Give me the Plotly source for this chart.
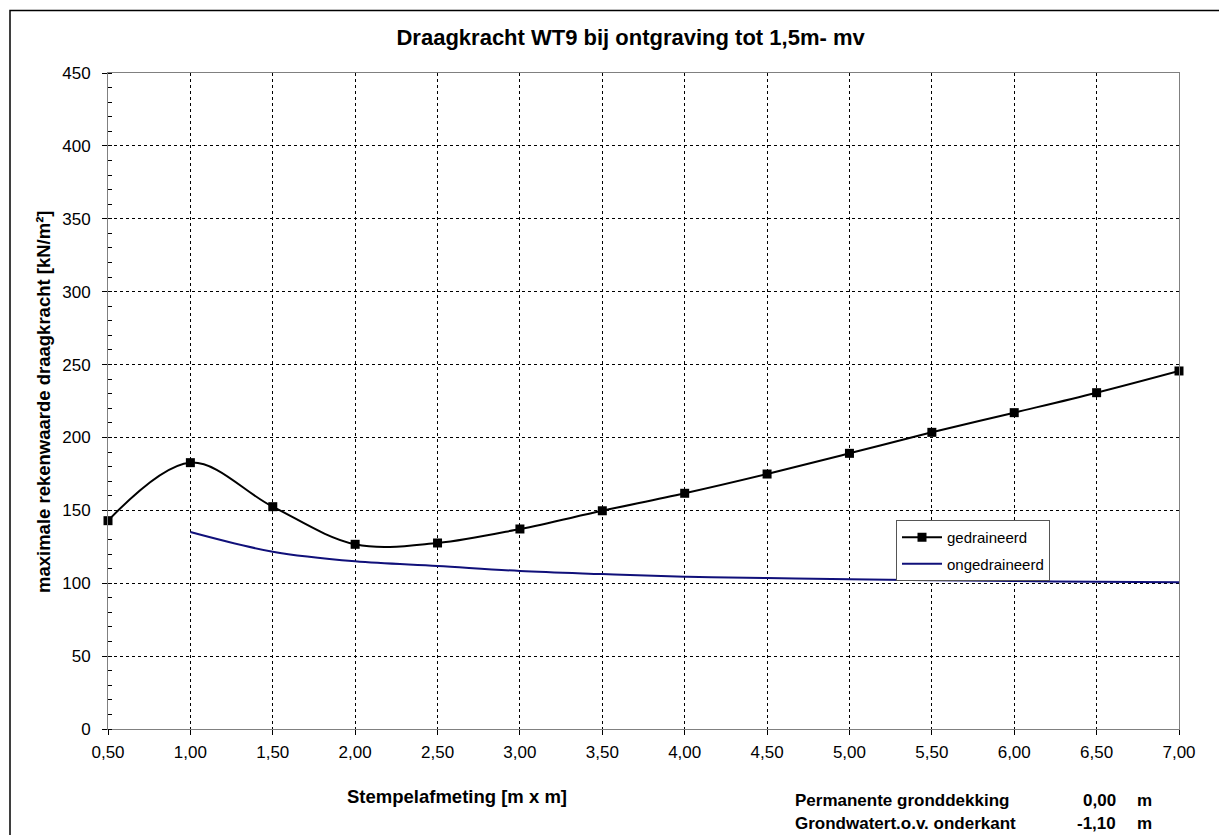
import plotly.graph_objects as go

# stempelafmeting [m x m]
stempel = [0.5, 1.0, 1.5, 2.0, 2.5, 3.0, 3.5, 4.0, 4.5, 5.0, 5.5, 6.0, 6.5, 7.0]
gedraineerd = [142.9, 182.7, 152.5, 126.7, 127.6, 137.2, 149.7, 161.7, 174.9, 189.1, 203.5, 217.0, 230.7, 245.6]

stempel_ongedraineerd = [1.0, 1.5, 2.0, 2.5, 3.0, 3.5, 4.0, 4.5, 5.0, 5.5, 6.0, 6.5, 7.0]
ongedraineerd = [135.1, 121.6, 115.0, 111.8, 108.4, 106.3, 104.5, 103.6, 102.7, 102.1, 101.5, 101.0, 100.6]

# the page puts the figure 8px in from the top-left, so work in page pixels
OFF = 8
W, H = 1227 - OFF, 835 - OFF
# plot area on the page: x 108..1179, y 73..729
L, R, T, B = 108 - OFF, 1227 - 1179, 73 - OFF, 835 - 729
PW, PH = W - L - R, H - T - B


def px(x):
    return (x - OFF - L) / PW


def py(y):
    return (H - B - (y - OFF)) / PH


FONT = "Arial, Liberation Sans, sans-serif"

fig = go.Figure()
fig.add_trace(go.Scatter(
    x=stempel, y=gedraineerd, mode='lines+markers', name='gedraineerd',
    legendgroup='g1',
    line=dict(color='black', width=2, shape='spline', smoothing=1),
    marker=dict(symbol='square', size=9, color='black'),
    cliponaxis=False
))
fig.add_trace(go.Scatter(
    x=stempel_ongedraineerd, y=ongedraineerd, mode='lines', name='ongedraineerd',
    legendgroup='g2',
    line=dict(color='#10107a', width=2, shape='spline', smoothing=1),
    cliponaxis=False
))

fig.update_layout(
    width=W, height=H,
    margin=dict(l=L, r=R, t=T, b=B),
    paper_bgcolor='white', plot_bgcolor='white',
    separators=',.',
    font=dict(family=FONT, size=17, color='black'),
    title=dict(text='<b>Draagkracht WT9 bij ontgraving tot 1,5m- mv</b>',
               x=px(655), xanchor='center', y=1 - (37 - OFF) / H, yanchor='middle',
               font=dict(size=22, family=FONT)),
    legend=dict(x=px(896), y=py(520), xanchor='left', yanchor='top',
                bgcolor='white', bordercolor='#555555', borderwidth=1,
                tracegroupgap=4, itemwidth=40,
                font=dict(size=15, family=FONT)),
    showlegend=True,
)

fig.update_xaxes(
    range=[0.5, 7.0], tickmode='linear', tick0=0.5, dtick=0.5, tickformat='.2f',
    showgrid=True, gridcolor='black', griddash='dot', gridwidth=1,
    showline=True, linecolor='#808080', linewidth=1, mirror=True,
    ticks='outside', ticklen=5, tickcolor='black', ticklabelstandoff=3,
    zeroline=False,
)
fig.update_yaxes(
    range=[0, 450], tickmode='linear', tick0=0, dtick=50,
    showgrid=True, gridcolor='black', griddash='dot', gridwidth=1,
    showline=True, linecolor='#808080', linewidth=1, mirror=True,
    ticks='outside', ticklen=5, tickcolor='black', ticklabelstandoff=8,
    minor=dict(dtick=10, ticks='inside', ticklen=4, tickcolor='black', showgrid=False),
    zeroline=False,
)

# axis titles and notes
fig.add_annotation(text='<b>maximale rekenwaarde draagkracht [kN/m²]</b>',
                   xref='paper', yref='paper', x=px(44), y=py(402), textangle=-90,
                   showarrow=False, font=dict(size=18.5, family=FONT),
                   xanchor='center', yanchor='middle')
fig.add_annotation(text='<b>Stempelafmeting [m x m]</b>',
                   xref='paper', yref='paper', x=px(457), y=py(796),
                   showarrow=False, font=dict(size=18.5, family=FONT),
                   xanchor='center', yanchor='middle')

notes = ['Permanente gronddekking', 'Grondwatert.o.v. onderkant']
note_values = ['0,00', '-1,10']
note_units = ['m', 'm']
for i, (t, v, u) in enumerate(zip(notes, note_values, note_units)):
    yy = py(800 + i * 23)
    fig.add_annotation(text=f'<b>{t}</b>', xref='paper', yref='paper', x=px(793), y=yy,
                       showarrow=False, xanchor='left', yanchor='middle',
                       font=dict(size=17, family=FONT))
    fig.add_annotation(text=f'<b>{v}</b>', xref='paper', yref='paper', x=px(1118), y=yy,
                       showarrow=False, xanchor='right', yanchor='middle',
                       font=dict(size=17, family=FONT))
    fig.add_annotation(text=f'<b>{u}</b>', xref='paper', yref='paper', x=px(1135), y=yy,
                       showarrow=False, xanchor='left', yanchor='middle',
                       font=dict(size=17, family=FONT))

# outer chart border (only left and top fall inside the picture)
fig.add_shape(type='rect', xref='paper', yref='paper',
              x0=px(10), y0=py(900), x1=px(1300), y1=py(10.5),
              line=dict(color='black', width=1.5), layer='above')

fig.write_html("out.html")
